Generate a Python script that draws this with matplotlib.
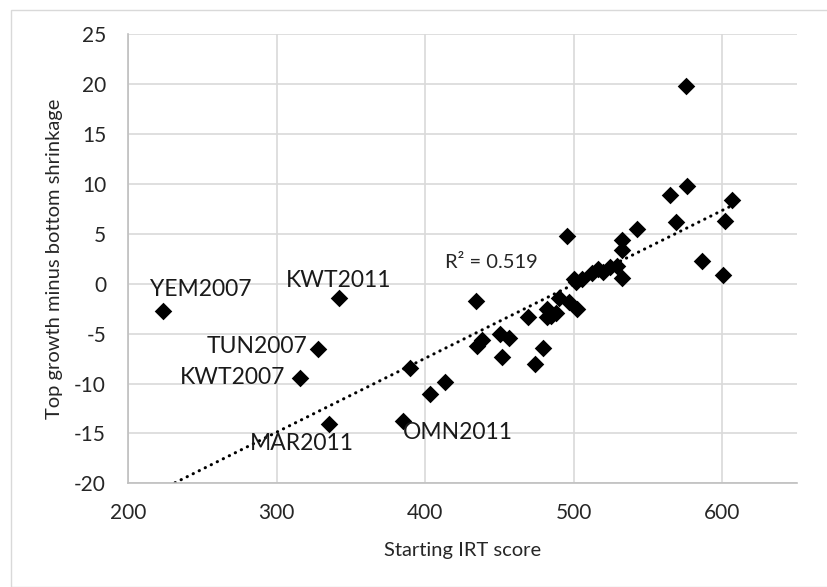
import numpy as np
import matplotlib.pyplot as plt
from matplotlib.patches import Rectangle

plt.rcParams['font.family'] = ['Lato', 'DejaVu Sans']
plt.rcParams['axes.unicode_minus'] = False

irt_score = [223.4, 341.9, 327.7, 315.8, 334.9, 385.0, 389.5, 402.8, 413.1,
             434.4, 434.5, 438.0, 450.1, 456.2, 451.8, 469.0, 473.6, 479.2,
             481.7, 484.4, 487.8, 482.0, 490.2, 496.7, 502.4, 495.2, 500.0,
             501.5, 505.6, 512.4, 516.5, 519.8, 524.3, 528.8, 532.2, 532.2,
             532.7, 542.3, 564.4, 568.6, 575.3, 576.1, 586.0, 600.1, 601.6,
             606.4]
growth_gap = [-2.74, -1.47, -6.57, -9.4, -14.04, -13.74, -8.47, -11.07, -9.84,
              -1.74, -6.2, -5.6, -5.07, -5.4, -7.3, -3.3, -8.0, -6.47,
              -2.5, -3.24, -2.9, -3.3, -1.45, -1.8, -2.5, 4.83, 0.43,
              0.2, 0.5, 1.1, 1.43, 1.16, 1.7, 1.76, 0.6, 4.43,
              3.36, 5.53, 8.86, 6.2, 19.8, 9.76, 2.3, 0.83, 6.33,
              8.4]

# labelled countries: (name, index into the arrays)
labels = [('YEM2007', 0), ('KWT2011', 1), ('TUN2007', 2), ('KWT2007', 3),
          ('MAR2011', 4), ('OMN2011', 5)]
# label placement in pixels relative to the point
label_pos = {
    'YEM2007': ((38, 22), 'center', 'center'),
    'KWT2011': ((0, 18), 'center', 'center'),
    'TUN2007': ((-11, 3), 'right', 'center'),
    'KWT2007': ((-15, 0), 'right', 'center'),
    'MAR2011': ((-27, -20), 'center', 'center'),
    'OMN2011': ((0, -12), 'left', 'center'),
}

# linear trend as shown in the chart
trend_slope = 0.0741
trend_intercept = -37.1
r2_text = 'R² = 0.519'

x = np.array(irt_score)
y = np.array(growth_gap)

fig = plt.figure(figsize=(8.27, 5.87), dpi=100)
fig.patches.append(Rectangle((11 / 827, 0), 1, 1 - 10 / 587, transform=fig.transFigure,
                             fill=False, edgecolor='#d9d9d9', linewidth=1))
ax = fig.add_axes([0.1551, 0.1767, 0.8083, 0.7649])

ax.grid(True, color='#d9d9d9', linewidth=1.2)
ax.set_axisbelow(True)
ax.scatter(x, y, marker='D', s=80, color='black', zorder=3, linewidths=0)

xt = np.array([x.min(), x.max()])
ax.plot(xt, trend_slope * xt + trend_intercept, color='black',
        linestyle=(0, (0.1, 2.1)), linewidth=2.2, dash_capstyle='round', zorder=2)

for name, i in labels:
    off, ha, va = label_pos[name]
    ax.annotate(name, (x[i], y[i]), xytext=off, textcoords='offset pixels',
                ha=ha, va=va, fontsize=16.5, color='#1a1a1a', zorder=4)

ax.text(444.4, 2.1, r2_text, ha='center', va='center', fontsize=14.5, color='#262626')

ax.set_xlim(200, 650)
ax.set_ylim(-20, 25)
ax.set_xticks([200, 300, 400, 500, 600])
ax.set_yticks(range(-20, 26, 5))
ax.tick_params(length=0, labelsize=15, labelcolor='#262626')
ax.tick_params(axis='x', pad=14)
ax.tick_params(axis='y', pad=16)
for side in ['top', 'right']:
    ax.spines[side].set_visible(False)
for side in ['left', 'bottom']:
    ax.spines[side].set_color('#bfbfbf')
    ax.spines[side].set_linewidth(1.2)

ax.set_xlabel('Starting IRT score', fontsize=14.5, color='#262626', labelpad=14)
ax.set_ylabel('Top growth minus bottom shrinkage', fontsize=14.5, color='#262626', labelpad=8)

fig.savefig('out.png', dpi=100)
